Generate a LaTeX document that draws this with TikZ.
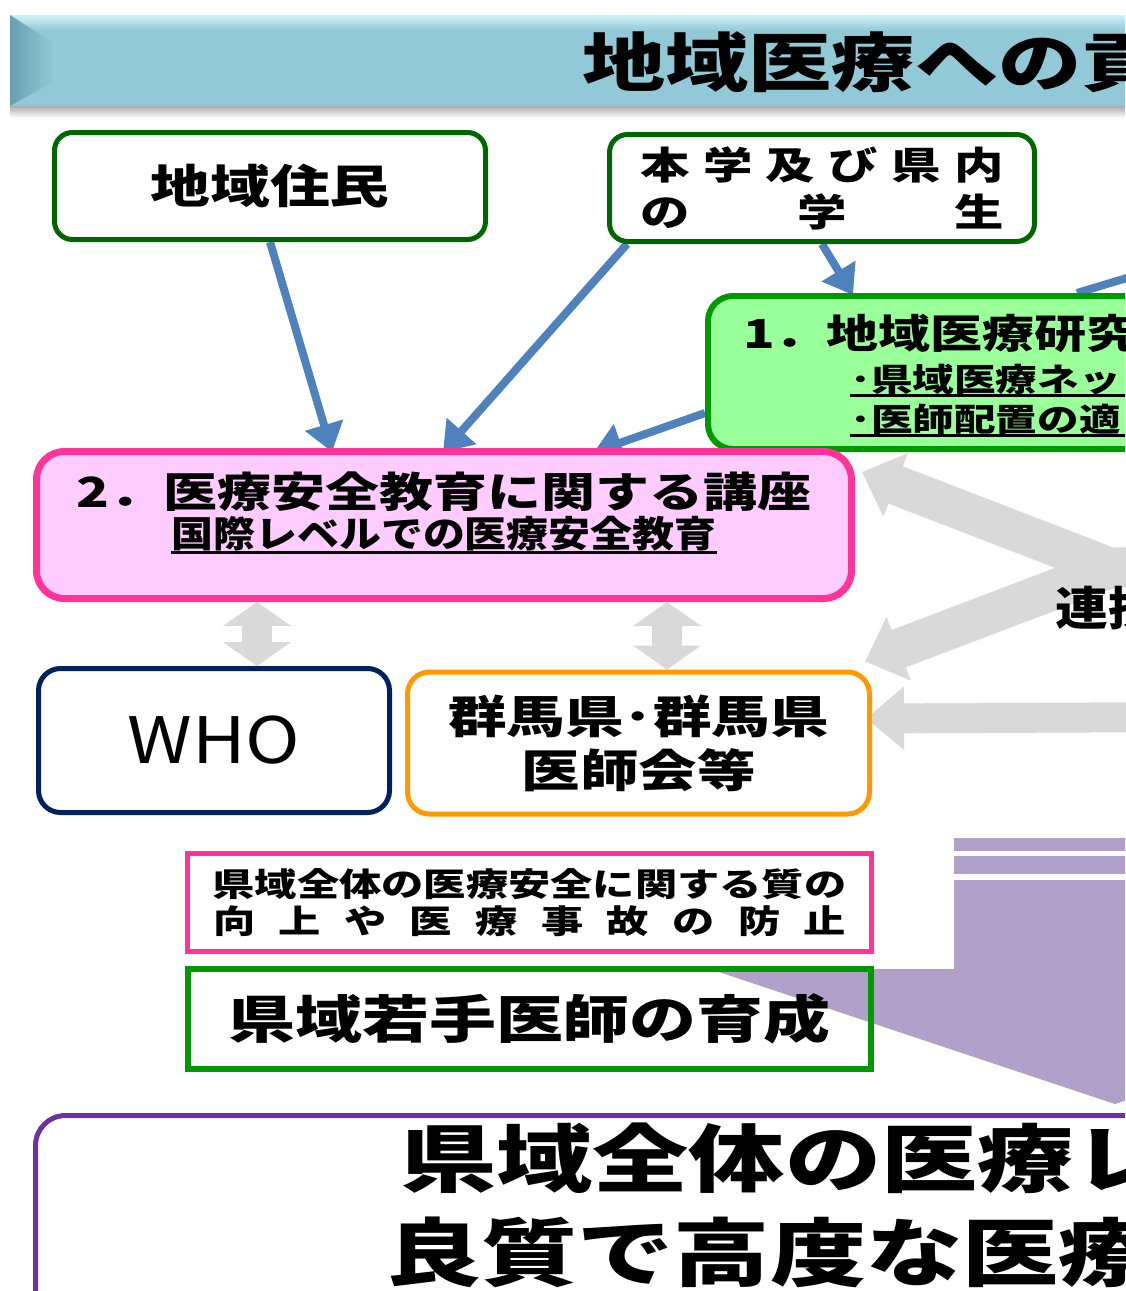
\documentclass[tikz,border=0pt]{standalone}
\usepackage{fontspec}
\setmainfont{Noto Sans CJK JP}
\newfontfamily\jpw{Noto Sans CJK JP}[FakeStretch=1.3]
\newfontfamily\jpm{Noto Sans CJK JP}[FakeStretch=1.15]
\usetikzlibrary{arrows.meta,calc}
\pgfdeclarelayer{bg}
\pgfsetlayers{bg,main}

\definecolor{titletop}{RGB}{205,242,248}
\definecolor{titlemid}{RGB}{146,201,214}
\definecolor{bevel}{RGB}{104,160,178}
\definecolor{dkgreen}{RGB}{0,102,0}
\definecolor{midgreen}{RGB}{0,153,0}
\definecolor{ltgreen}{RGB}{153,255,153}
\definecolor{hotpink}{RGB}{255,51,153}
\definecolor{ltpink}{RGB}{255,204,255}
\definecolor{navy}{RGB}{0,32,96}
\definecolor{orng}{RGB}{255,153,0}
\definecolor{vlt}{RGB}{112,48,160}
\definecolor{lilac}{RGB}{177,160,199}
\definecolor{arrgray}{RGB}{217,217,217}
\definecolor{arrblue}{RGB}{79,129,189}

% underlined text: #1 = depth of the rule, #2 = text
\newcommand\ulin[2]{\setbox0=\hbox{#2}\leavevmode\rlap{\rule[-#1]{\wd0}{3pt}}\box0}
% underline running out of the picture
\newcommand\ulfix[1]{\leavevmode\rlap{\rule[-6pt]{300pt}{3pt}}#1}

\begin{document}
\begin{tikzpicture}[x=1pt, y=-1pt,
  box/.style={draw, fill=white, rounded corners=18pt, line width=5pt, inner sep=0pt, align=center},
  sqbox/.style={draw, line width=5pt, inner sep=0pt, align=center},
  txt/.style={inner sep=0pt, align=center},
  bluearr/.style={draw=arrblue, line width=8pt, -{Triangle[width=38pt,length=28pt]}},
  grayarr/.style={draw=arrgray, line width=30pt, {Triangle[width=67pt,length=24pt]}-{Triangle[width=67pt,length=24pt]}},
  bigarr/.style={draw=arrgray, line width=40pt, -{Triangle[width=66pt,length=36pt]}}]
\useasboundingbox (0,0) rectangle (1125,1291);
\clip (0,0) rectangle (1125,1291);

% title bar
\shade[top color=black!35, bottom color=white] (10,105) rectangle (1200,118);
\fill[titlemid] (10,30) rectangle (1200,106);
\shade[top color=titletop, bottom color=titlemid] (10,15) rectangle (1200,30.5);
\shade[left color=bevel, right color=titlemid] (10,15) -- (53,43) -- (53,82) -- (10,106) -- cycle;
\node[txt, anchor=west] (title) at (582,62) {\jpw\bfseries\fontsize{64}{70}\selectfont 地域医療への貢};

% purple arrow
\fill[lilac] (954,838) rectangle (1200,851);
\fill[lilac] (954,856) rectangle (1200,874);
\fill[lilac] (954,880) -- (954,969) -- (710,969) -- (1115,1104) -- (1520,969) -- (1276,969) -- (1276,880) -- cycle;

\node[box, draw=dkgreen, minimum width=431pt, minimum height=107pt, font={\jpw\bfseries\fontsize{46}{50}\selectfont}] (res) at (270,186) {地域住民};
\node[box, draw=dkgreen, minimum width=425pt, minimum height=107pt, font={\jpw\bfseries\fontsize{38}{47}\selectfont}] (stud) at (822,188) {\hbox to 363pt{本\hfill 学\hfill 及\hfill び\hfill 県\hfill 内}\\ \hbox to 363pt{の\hfill 学\hfill 生}};

\node[box, draw=midgreen, fill=ltgreen, line width=6pt, rounded corners=25pt, minimum width=492pt, minimum height=153pt] (research) at (954,372.5) {};
\node[txt, anchor=west] (restitle) at (743,333) {\jpw\bfseries\fontsize{40}{44}\selectfont 1．地域医療研究};
\node[txt, anchor=base west] (resnet) at (850,391) {\jpw\bfseries\fontsize{32}{36}\selectfont\ulfix{･県域医療ネット}};
\node[txt, anchor=base west] (resdoc) at (850,431) {\jpw\bfseries\fontsize{32}{36}\selectfont\ulfix{･医師配置の適}};

\node[box, draw=hotpink, fill=ltpink, line width=7pt, rounded corners=28pt, minimum width=815pt, minimum height=147pt] (lecture) at (444,525) {};
\node[txt] (lectitle) at (444,492) {\jpw\bfseries\fontsize{41.5}{45}\selectfont 2．医療安全教育に関する講座};
\node[txt, anchor=base] (lecsub) at (444,547) {\jpm\bfseries\fontsize{36.5}{40}\selectfont\ulin{7pt}{国際レベルでの医療安全教育}};

\node[box, draw=navy, rounded corners=22pt, minimum width=351pt, minimum height=144pt, font={\jpm\fontsize{64}{70}\selectfont}] (who) at (214,740.5) {WHO};
\node[box, draw=orng, rounded corners=22pt, minimum width=462pt, minimum height=142pt, font={\jpw\bfseries\fontsize{45}{54}\selectfont}] (gunma) at (638.5,743) {群馬県･群馬県\\医師会等};

\node[sqbox, draw=hotpink, fill=white, minimum width=684pt, minimum height=98pt, font={\jpw\bfseries\fontsize{32.5}{37}\selectfont}] (quality) at (529.5,902.5) {県域全体の医療安全に関する質の\\ \hbox to 633pt{向\hfill 上\hfill や\hfill 医\hfill 療\hfill 事\hfill 故\hfill の\hfill 防\hfill 止}};
\node[sqbox, draw=midgreen, line width=6pt, minimum width=683pt, minimum height=100pt, font={\jpw\bfseries\fontsize{51.5}{56}\selectfont}] (young) at (529.5,1019) {県域若手医師の育成};

\node[box, draw=vlt, rounded corners=30pt, minimum width=1165pt, minimum height=215pt] (vision) at (618,1223) {};
\node[txt, anchor=west] (visA) at (400,1158) {\jpw\bfseries\fontsize{74}{80}\selectfont 県域全体の医療レ};
\node[txt, anchor=west] (visB) at (385,1252) {\jpw\bfseries\fontsize{74}{80}\selectfont 良質で高度な医療};

\node[txt, anchor=west] (renkei) at (1055,608) {\jpm\bfseries\fontsize{46}{50}\selectfont 連携};

\coordinate (va) at (257,0);
\coordinate (vb) at (667,0);
\coordinate (hub) at (1111,568);
\coordinate (hstart) at (1150,566);
\coordinate (hright) at (1200,717);
\coordinate (bin) at (1160,268);

\begin{pgfonlayer}{bg}
\draw[bluearr] (res.south) -- ($(lecture.north west)+(299,4)$);
\draw[bluearr] ($(stud.south west)+(20,0)$) -- ($(lecture.north west)+(410,4)$);
\draw[bluearr] (stud.south) -- ($(research.north west)+(148,2)$);
\draw[bluearr] ($(research.south west)+(0,-39)$) -- ($(lecture.north west)+(561,4)$);
\draw[draw=arrblue, line width=8pt] (bin) -- ($(research.north west)+(372,0)$);

\draw[grayarr] (lecture.south -| va) -- (who.north -| va);
\draw[grayarr] (lecture.south -| vb) -- (gunma.north -| vb);
\draw[bigarr] (hstart) -- (hub) -- ($(lecture.north east)+(7,24)$);
\draw[bigarr] (hstart) -- (hub) -- ($(gunma.north east)+(-7,-8)$);
\draw[draw=arrgray, line width=30pt, -{Triangle[width=61pt,length=38pt]}] (hright) -- ($(gunma.east)+(-6,-24.5)$);
\end{pgfonlayer}
\end{tikzpicture}
\end{document}
